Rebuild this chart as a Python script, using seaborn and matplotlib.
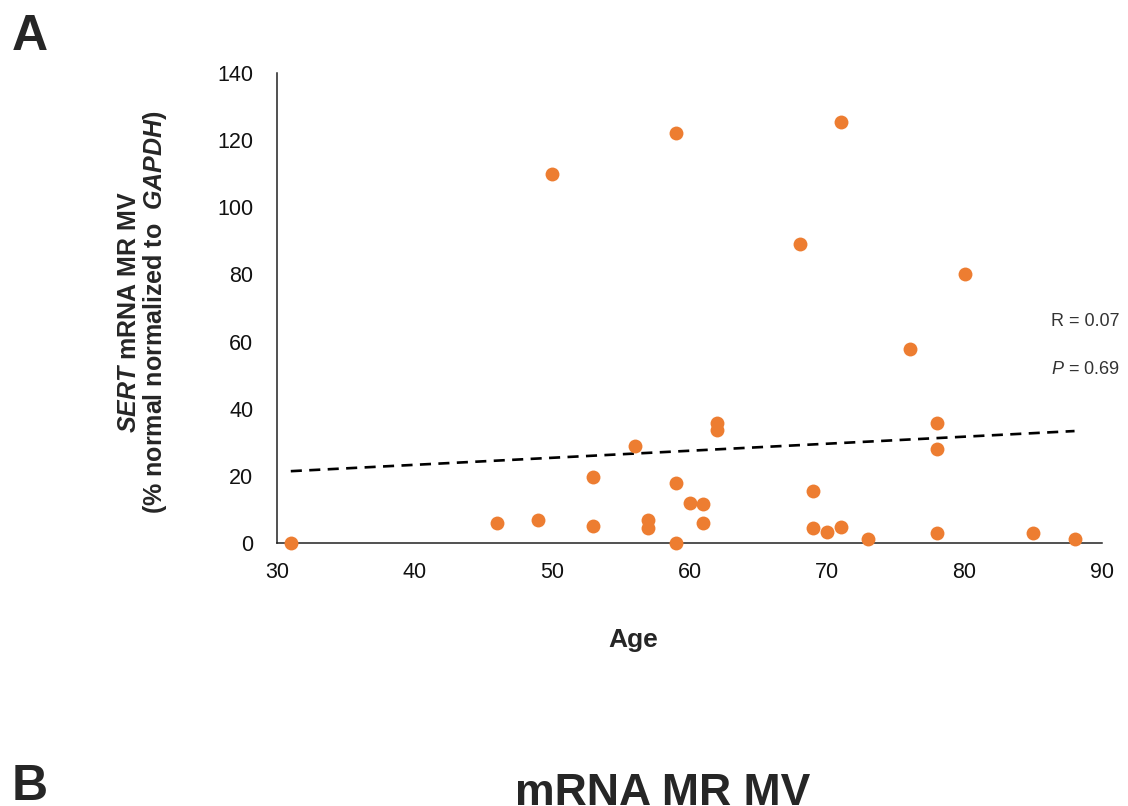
import matplotlib
matplotlib.use("Agg")
import matplotlib.pyplot as plt
import seaborn as sns
import pandas as pd

# Data (Age vs SERT mRNA MR MV)
age = [31, 46, 49, 50, 53, 53, 56, 57, 57, 59, 59, 59, 60, 61, 61, 62, 62,
       68, 69, 69, 70, 71, 71, 73, 76, 78, 78, 78, 80, 85, 88]
sert = [0, 6, 7, 110, 19.7, 5, 29, 7, 4.5, 122, 17.8, 0, 12, 11.5, 6, 35.7, 33.7,
        89, 15.6, 4.5, 3.2, 125.3, 4.9, 1.1, 57.8, 35.7, 28, 2.9, 80, 2.9, 1.1]
x_ticks = [30, 40, 50, 60, 70, 80, 90]
y_ticks = [0, 20, 40, 60, 80, 100, 120, 140]
r_text = "R = 0.07"
p_text = "$\\mathit{P}$ = 0.69"

df = pd.DataFrame({"Age": age, "SERT": sert})

sns.set_style("white")
plt.rcParams["font.family"] = ["Liberation Sans", "DejaVu Sans"]
plt.rcParams["mathtext.fontset"] = "custom"
plt.rcParams["mathtext.rm"] = "Liberation Sans"
plt.rcParams["mathtext.it"] = "Liberation Sans:italic"
plt.rcParams["mathtext.bf"] = "Liberation Sans:bold"
plt.rcParams["mathtext.bfit"] = "Liberation Sans:italic:bold"

fig = plt.figure(figsize=(11.28, 8.06), dpi=100)
ax = fig.add_axes([0.2456, 0.3263, 0.7314, 0.5831])

sns.regplot(data=df, x="Age", y="SERT", ax=ax, ci=None,
            scatter_kws={"s": 100, "color": "#ED7D31", "alpha": 1,
                         "linewidths": 0, "clip_on": False, "zorder": 5},
            line_kws={"color": "black", "linestyle": (0, (4.2, 2.8)),
                      "linewidth": 1.9, "zorder": 4})

ax.set_xlim(30, 90)
ax.set_ylim(0, 140)
ax.set_xticks(x_ticks)
ax.set_yticks(y_ticks)

sns.despine(ax=ax)
for side in ["left", "bottom"]:
    ax.spines[side].set_color("#222222")
    ax.spines[side].set_linewidth(1.1)
ax.tick_params(axis="both", direction="out", length=6, width=1.1,
               color="#222222", labelsize=15.5, labelcolor="#111111")
ax.tick_params(axis="x", pad=8)
ax.tick_params(axis="y", pad=11)

ax.set_xlabel("Age", fontsize=19, fontweight="bold")
ax.xaxis.set_label_coords(0.4315, -0.18)
ax.set_ylabel("$\\mathbfit{SERT}$ mRNA MR MV\n(% normal normalized to  $\\mathbfit{GAPDH}$)",
              fontsize=18, fontweight="bold", linespacing=1.0)
ax.yaxis.set_label_coords(-0.131, 0.491)

fig.text(1051 / 1128, 1 - 321 / 806, r_text, fontsize=13, va="center", color="#333333")
fig.text(1051 / 1128, 1 - 370 / 806, p_text, fontsize=13, va="center", color="#333333")

fig.text(12 / 1128, 1 - 50 / 806, "A", fontsize=36, fontweight="bold", va="baseline")
fig.text(12 / 1128, 1 - 800 / 806, "B", fontsize=36, fontweight="bold", va="baseline")
fig.text(663 / 1128, 1 - 805 / 806, "mRNA MR MV", fontsize=32, fontweight="bold",
         ha="center", va="baseline")

fig.savefig("out.png", dpi=100)
plt.close()
